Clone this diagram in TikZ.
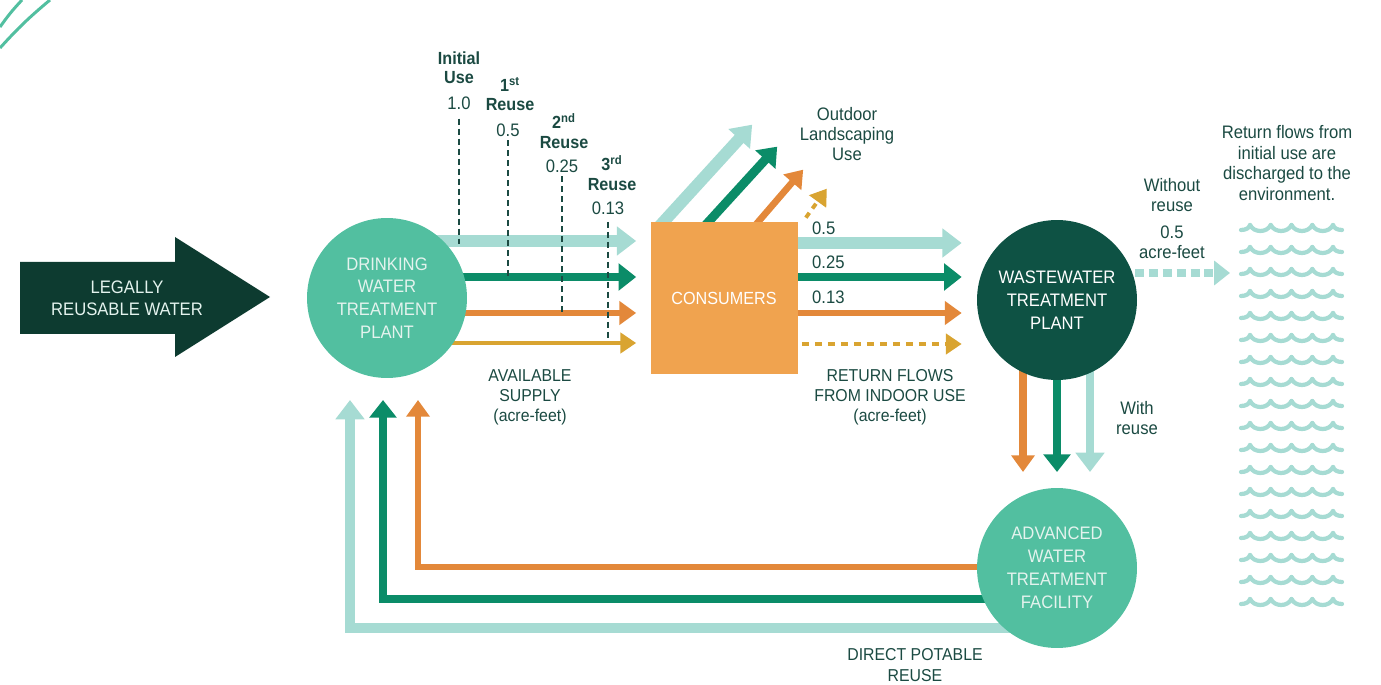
\documentclass[tikz,border=0pt]{standalone}
\usepackage{fontspec}
\setmainfont{Liberation Sans}[FakeStretch=0.92]
\usetikzlibrary{arrows.meta,calc,backgrounds}

\definecolor{ltteal}{HTML}{A6DBD3}
\definecolor{midteal}{HTML}{52BFA0}
\definecolor{flowgreen}{HTML}{0B8C68}
\definecolor{floworange}{HTML}{E3883A}
\definecolor{flowgold}{HTML}{D9A431}
\definecolor{boxorange}{HTML}{F0A34F}
\definecolor{deepgreen}{HTML}{0E5244}
\definecolor{legalgreen}{HTML}{0D3B30}
\definecolor{labelink}{HTML}{1B4A42}
\definecolor{plantink}{HTML}{E4F3EE}

\begin{document}
\begin{tikzpicture}[x=0.02cm, y=-0.02cm,
  plant/.style={circle, fill=midteal, text=plantink, minimum size=3.2cm,
    inner sep=0pt, align=center, font=\fontsize{10.3}{13}\selectfont},
  lbl/.style={text=labelink, align=center, inner sep=1pt,
    font=\fontsize{10.3}{11.6}\selectfont},
  blbl/.style={lbl, font=\fontsize{10}{11}\selectfont\bfseries},
  tealflow/.style={ltteal, line width=6.8pt, -{Triangle[length=11pt,width=16pt]}},
  greenflow/.style={flowgreen, line width=5.1pt, -{Triangle[length=10pt,width=15pt]}},
  orangeflow/.style={floworange, line width=3.8pt, -{Triangle[length=9.5pt,width=13pt]}},
  goldflow/.style={flowgold, line width=2.2pt, -{Triangle[length=9pt,width=11.5pt]}},
  guide/.style={labelink, line width=1.5pt, dash pattern=on 3.4pt off 2.3pt},
  wave/.style={ltteal, line width=2.4pt, line cap=round}
]
\useasboundingbox (0,0) rectangle (1381,685);

% corner decoration
\draw[midteal, line width=1.7pt] (0,27) to[bend left=4] (22,0);
\draw[midteal, line width=1.7pt] (0,48) to[bend left=4] (50,0);

% source arrow
\fill[legalgreen] (20,262) -- (175,262) -- (175,237) -- (270,297)
  -- (175,357) -- (175,334) -- (20,334) -- cycle;
\node[text=plantink, align=center, font=\fontsize{10.3}{12.5}\selectfont]
  (legal) at (127,298) {LEGALLY\\REUSABLE WATER};

% plants and consumers
\node[plant] (dwtp) at (387,298) {DRINKING\\WATER\\TREATMENT\\PLANT};
\node[rectangle, fill=boxorange, text=white, minimum width=2.94cm,
  minimum height=3.04cm, font=\fontsize{10}{12}\selectfont]
  (cons) at (724,298) {CONSUMERS};
\node[plant, fill=deepgreen, text=white] (wwtp) at (1057,300)
  {WASTEWATER\\TREATMENT\\PLANT};
\node[plant] (awtf) at (1057,568) {ADVANCED\\WATER\\TREATMENT\\FACILITY};

\begin{scope}[on background layer]
  % available supply
  \draw[tealflow] ($(dwtp)+(0,-57)$) -- ($(cons.west)+(-14,-57)$);
  \draw[greenflow] ($(dwtp)+(0,-21)$) -- ($(cons.west)+(-14,-21)$);
  \draw[orangeflow] ($(dwtp)+(0,15)$) -- ($(cons.west)+(-14,15)$);
  \draw[goldflow] ($(dwtp)+(0,45)$) -- ($(cons.west)+(-14,45)$);
  % return flows from indoor use
  \draw[tealflow] ($(cons)+(0,-55)$) -- ($(wwtp.west)+(-15,-57)$);
  \draw[greenflow] ($(cons)+(0,-21)$) -- ($(wwtp.west)+(-15,-23)$);
  \draw[orangeflow] ($(cons)+(0,15)$) -- ($(wwtp.west)+(-15,13)$);
  \draw[goldflow, dash pattern=on 4pt off 3.4pt]
    ($(cons.east)+(4,46)$) -- ($(wwtp.west)+(-15,44)$);
  % outdoor use
  \draw[tealflow] ($(cons.north west)+(8,6)$) -- ++(94,-103);
  \draw[greenflow] ($(cons.north west)+(53,6)$) -- ++(74,-81);
  \draw[orangeflow] ($(cons.north west)+(103,6)$) -- ++(50,-58);
  % with reuse
  \draw[orangeflow, line width=4.2pt] ($(wwtp)+(-34,60)$) -- ($(awtf)+(-34,-96)$);
  \draw[greenflow, line width=4.5pt] ($(wwtp)+(0,60)$) -- ($(awtf)+(0,-96)$);
  \draw[tealflow, line width=4.8pt] ($(wwtp)+(33,60)$) -- ($(awtf)+(33,-96)$);
  % direct potable reuse
  \draw[orangeflow, line width=3.8pt] ($(awtf)+(0,-1)$) -| ($(dwtp)+(31,102)$);
  \draw[greenflow, line width=4.6pt] ($(awtf)+(0,31)$) -| ($(dwtp)+(-4,102)$);
  \draw[tealflow, line width=5.6pt] ($(awtf)+(0,60)$) -| ($(dwtp)+(-37,102)$);
\end{scope}

\draw[goldflow, dash pattern=on 3.4pt off 3pt] ($(cons.north east)+(8,-4)$) -- ++(21,-29);

% use labels
\node[blbl] (use0) at (459,68) {Initial\\Use};
\node[lbl] (n10) at (459,103) {1.0};
\node[blbl] (use1) at (510,94) {1\textsuperscript{st}\\Reuse};
\node[lbl] (n05) at (508,130) {0.5};
\node[blbl] (use2) at (564,131) {2\textsuperscript{nd}\\Reuse};
\node[lbl] (n025) at (562,166) {0.25};
\node[blbl] (use3) at (612,173) {3\textsuperscript{rd}\\Reuse};
\node[lbl] (n013) at (608,208) {0.13};

\draw[guide] ([yshift=-4pt]n10.south) -- ++(0,125);
\draw[guide] ([yshift=-1pt]n05.south) -- ++(0,137);
\draw[guide] ([yshift=-1pt]n025.south) -- ++(0,138);
\draw[guide] ([yshift=-3pt]n013.south) -- ++(0,120);

% flow labels
\node[lbl, anchor=west] (r05) at (810,228) {0.5};
\node[lbl, anchor=west] (r025) at (810,262) {0.25};
\node[lbl, anchor=west] (r013) at (810,297) {0.13};
\node[lbl] (outdoor) at (847,134) {Outdoor\\Landscaping\\Use};
\node[lbl, font=\fontsize{9.8}{11.4}\selectfont] (supply) at (530,397)
  {AVAILABLE\\SUPPLY\\(acre-feet)};
\node[lbl, font=\fontsize{9.8}{11.4}\selectfont] (indoor) at (890,397)
  {RETURN FLOWS\\FROM INDOOR USE\\(acre-feet)};
\node[lbl, font=\fontsize{9.8}{11.8}\selectfont] (dpr) at (915,665)
  {DIRECT POTABLE\\REUSE};
\node[lbl] (withre) at (1137,418) {With\\reuse};
\node[lbl] (without) at (1172,195) {Without\\reuse};
\node[lbl] (acre) at (1172,242) {0.5\\acre-feet};
\node[lbl] (env) at (1287,163)
  {Return flows from\\initial use are\\discharged to the\\environment.};

% discharge without reuse
\coordinate (sea) at (1230,273);
\draw[ltteal, line width=5.1pt, dash pattern=on 5.1pt off 2.8pt,
  -{Triangle[length=9pt,width=13.5pt]}] ($(wwtp)+(78,-27)$) -- (sea);

% waves
\foreach \r in {0,...,17}{
  \pgfmathsetmacro\wy{225+22*\r}
  \draw[wave] (1241,{\wy+5}) .. controls (1246,{\wy+5}) and (1249,{\wy+3}) .. (1250,\wy);
  \draw[wave] (1333,\wy) .. controls (1334,{\wy+3}) and (1337,{\wy+5}) .. (1342,{\wy+5});
  \foreach \k in {0,...,3}{
    \draw[wave] ({1250+20.75*\k},\wy) .. controls +(4,8) and +(-4,8)
      .. ({1270.75+20.75*\k},\wy);
  }
}

\end{tikzpicture}
\end{document}
